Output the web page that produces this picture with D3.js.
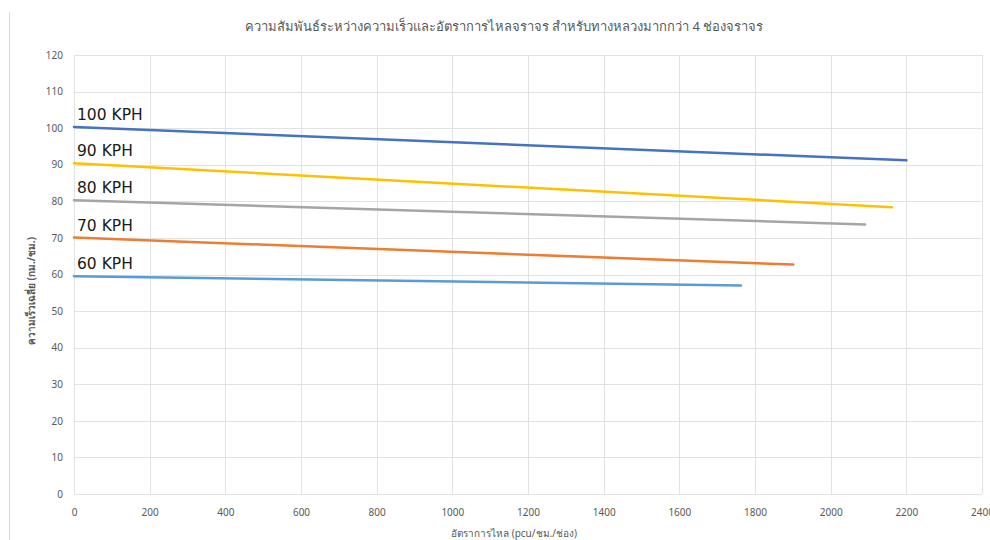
<!DOCTYPE html>
<html>
<head>
<meta charset="utf-8">
<script src="https://cdn.jsdelivr.net/npm/d3@7/dist/d3.min.js"></script>
<style>
  html, body { margin: 0; padding: 0; background: #fff; }
  svg { display: block; }
</style>
</head>
<body>
<svg id="chart" width="990" height="540"></svg>
<script>
// Speed–flow relationships for highways with more than 4 lanes
const seriesNames = ["100 KPH", "90 KPH", "80 KPH", "70 KPH", "60 KPH"];
const seriesColors = ["#4472C4", "#FFC000", "#A5A5A5", "#ED7D31", "#5B9BD5"];
// each series: [flow, speed] at start and end of the curve
const flow100 = [0, 2200];
const speed100 = [100.3, 91.2];
const flow90 = [0, 2162];
const speed90 = [90.4, 78.4];
const flow80 = [0, 2091];
const speed80 = [80.3, 73.7];
const flow70 = [0, 1901];
const speed70 = [70.1, 62.7];
const flow60 = [0, 1763];
const speed60 = [59.5, 57.0];

const xTicks = [0, 200, 400, 600, 800, 1000, 1200, 1400, 1600, 1800, 2000, 2200, 2400];
const yTicks = [0, 10, 20, 30, 40, 50, 60, 70, 80, 90, 100, 110, 120];

const titleText = "ความสัมพันธ์ระหว่างความเร็วและอัตราการไหลจราจร สำหรับทางหลวงมากกว่า 4 ช่องจราจร";
const xTitle = "อัตราการไหล (pcu/ชม./ช่อง)";
const yTitle = "ความเร็วเฉลี่ย (กม./ชม.)";

const flows = [flow100, flow90, flow80, flow70, flow60];
const speeds = [speed100, speed90, speed80, speed70, speed60];

const svg = d3.select("#chart");
const W = 990, H = 540;
const m = { left: 74, right: 8, top: 55, bottom: 46 };
const font = "Tahoma, 'Noto Sans', 'DejaVu Sans', sans-serif";

const x = d3.scaleLinear().domain([0, 2400]).range([m.left, W - m.right]);
const y = d3.scaleLinear().domain([0, 120]).range([H - m.bottom, m.top]);

// chart frame edge on the left
svg.append("line")
  .attr("x1", 9.5).attr("x2", 9.5).attr("y1", 12).attr("y2", H)
  .attr("stroke", "#d9d9d9").attr("stroke-width", 1);

// gridlines
const grid = svg.append("g");
grid.selectAll(".hg").data(yTicks).join("line")
  .attr("x1", x(0)).attr("x2", x(2400))
  .attr("y1", d => Math.round(y(d)) + 0.5).attr("y2", d => Math.round(y(d)) + 0.5)
  .attr("stroke", "#e2e2e2").attr("stroke-width", 1);
grid.selectAll(".vg").data(xTicks).join("line")
  .attr("y1", y(0)).attr("y2", y(120))
  .attr("x1", d => Math.round(x(d)) + 0.5).attr("x2", d => Math.round(x(d)) + 0.5)
  .attr("stroke", "#e2e2e2").attr("stroke-width", 1);

// axes (labels only; lines come from the grid)
const xAxis = svg.append("g")
  .attr("transform", `translate(0,${y(0) + 9})`)
  .call(d3.axisBottom(x).tickValues(xTicks).tickSize(0).tickPadding(6).tickFormat(d3.format("d")));
const yAxis = svg.append("g")
  .attr("transform", `translate(${x(0) - 11},0)`)
  .call(d3.axisLeft(y).tickValues(yTicks).tickSize(0).tickPadding(0).tickFormat(d3.format("d")));
[xAxis, yAxis].forEach(a => {
  a.select(".domain").remove();
  a.selectAll("text").attr("fill", "#595959").attr("font-size", 10).attr("font-family", font);
});

// series lines with their speed labels
const line = d3.line().x(d => x(d[0])).y(d => y(d[1]));
seriesNames.forEach((name, i) => {
  const pts = flows[i].map((f, j) => [f, speeds[i][j]]);
  svg.append("path")
    .datum(pts)
    .attr("d", line)
    .attr("fill", "none")
    .attr("stroke", seriesColors[i])
    .attr("stroke-width", 2.5)
    .attr("stroke-linecap", "round");
  svg.append("text")
    .attr("x", x(0) + 3)
    .attr("y", y(speeds[i][0]) - 7)
    .attr("font-family", "'DejaVu Sans', Verdana, sans-serif")
    .attr("font-size", 15.5)
    .attr("fill", "#1a1a1a")
    .text(name);
});

// title
svg.append("text")
  .attr("x", 504).attr("y", 31)
  .attr("text-anchor", "middle")
  .attr("font-family", font)
  .attr("font-size", 13)
  .attr("fill", "#595959")
  .text(titleText);

// axis titles
svg.append("text")
  .attr("x", 514).attr("y", 537)
  .attr("text-anchor", "middle")
  .attr("font-family", font)
  .attr("font-size", 10)
  .attr("fill", "#595959")
  .text(xTitle);

svg.append("text")
  .attr("transform", `translate(35,291) rotate(-90)`)
  .attr("text-anchor", "middle")
  .attr("font-family", font)
  .attr("font-size", 10)
  .attr("font-weight", "bold")
  .attr("fill", "#595959")
  .text(yTitle);
</script>
</body>
</html>
